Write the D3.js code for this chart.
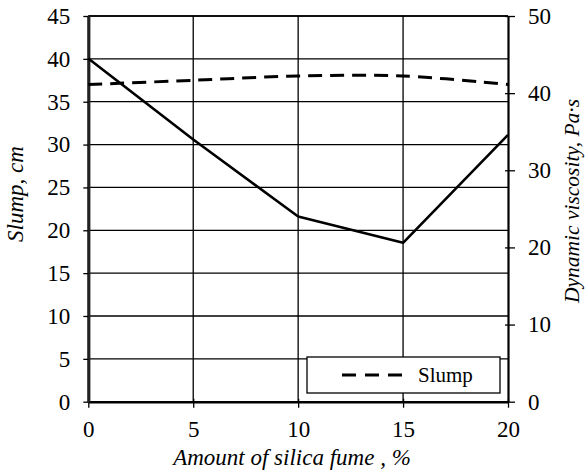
<!DOCTYPE html>
<html>
<head>
<meta charset="utf-8">
<script src="https://cdn.jsdelivr.net/npm/d3@7"></script>
<style>
  body { margin: 0; background: #fff; }
  svg { display: block; }
</style>
</head>
<body>
<svg width="585" height="470"></svg>
<script>
// Data.
const silica = [0, 5, 10, 15, 20];
const slump = [37, 37.5, 38, 38, 37];            // left axis, cm (dashed)
const viscosity = [44.5, 34, 24, 20.6, 34.6];     // right axis, Pa·s (solid)
const xTicks = [0, 5, 10, 15, 20];
const leftTicks = [0, 5, 10, 15, 20, 25, 30, 35, 40, 45];
const rightTicks = [0, 10, 20, 30, 40, 50];

const serif = "Liberation Serif";

const svg = d3.select("svg");
const margin = { left: 88.3, right: 77, top: 16, bottom: 68.3 };
const width = 585 - margin.left - margin.right;
const height = 470 - margin.top - margin.bottom;

const g = svg.append("g").attr("transform", `translate(${margin.left},${margin.top})`);

const x = d3.scaleLinear().domain([0, 20]).range([0, width]);
const yL = d3.scaleLinear().domain([0, 45]).range([height, 0]);
const yR = d3.scaleLinear().domain([0, 50]).range([height, 0]);

// Grid lines.
g.append("g").selectAll("line.h")
    .data(leftTicks.filter(d => d > 0))
    .enter().append("line")
    .attr("x1", 0).attr("x2", width)
    .attr("y1", d => yL(d)).attr("y2", d => yL(d))
    .attr("stroke", "#000").attr("stroke-width", 1.3);

g.append("g").selectAll("line.v")
    .data(xTicks.filter(d => d > 0 && d < 20))
    .enter().append("line")
    .attr("x1", d => x(d)).attr("x2", d => x(d))
    .attr("y1", 0).attr("y2", height)
    .attr("stroke", "#000").attr("stroke-width", 1.3);

// Top border.
g.append("line").attr("x1", 0).attr("x2", width).attr("y1", 0).attr("y2", 0)
    .attr("stroke", "#000").attr("stroke-width", 1.5);

// Axes.
const xAxis = g.append("g").attr("transform", `translate(0,${height})`)
    .call(d3.axisBottom(x).tickValues(xTicks).tickSize(6).tickPadding(13).tickSizeOuter(0));
xAxis.selectAll(".tick line").attr("y1", -3).attr("stroke-width", 1.3);
const yLeft = g.append("g")
    .call(d3.axisLeft(yL).tickValues(leftTicks).tickSize(5).tickPadding(13).tickSizeOuter(0));
yLeft.selectAll(".tick line").attr("stroke-width", 1.3);
const yRight = g.append("g").attr("transform", `translate(${width},0)`)
    .call(d3.axisRight(yR).tickValues(rightTicks).tickSize(7).tickPadding(13).tickSizeOuter(0));
yRight.selectAll(".tick line").attr("x1", -3).attr("stroke-width", 1.3);

[xAxis, yLeft, yRight].forEach(a => {
    a.selectAll("text")
        .style("font-family", serif)
        .style("font-size", "23px")
        .attr("fill", "#000");
    a.select(".domain").attr("stroke", "#000");
});
xAxis.select(".domain").attr("stroke-width", 2.5);
yLeft.select(".domain").attr("stroke-width", 3.2).attr("stroke", "#222");
yRight.select(".domain").attr("stroke-width", 2.2);

// Series lines.
const viscLine = d3.line()
    .x((d, i) => x(silica[i]))
    .y(d => yR(d));
g.append("path").datum(viscosity)
    .attr("d", viscLine)
    .attr("fill", "none").attr("stroke", "#000").attr("stroke-width", 2.6)
    .attr("stroke-linejoin", "round");

const slumpLine = d3.line()
    .x((d, i) => x(silica[i]))
    .y(d => yL(d))
    .curve(d3.curveCatmullRom.alpha(0.5));
g.append("path").datum(slump)
    .attr("d", slumpLine)
    .attr("fill", "none").attr("stroke", "#000").attr("stroke-width", 3)
    .attr("stroke-dasharray", "14,8");

// Legend.
const legend = svg.append("g").attr("transform", "translate(307,357)");
legend.append("rect").attr("width", 193).attr("height", 36)
    .attr("fill", "#fff").attr("stroke", "#000").attr("stroke-width", 1.3);
legend.append("line").attr("x1", 35).attr("x2", 95).attr("y1", 18).attr("y2", 18)
    .attr("stroke", "#000").attr("stroke-width", 3).attr("stroke-dasharray", "14,9");
legend.append("text").attr("x", 111).attr("y", 25)
    .style("font-family", serif).style("font-size", "21px").text("Slump");

// Axis titles.
svg.append("text")
    .attr("transform", "translate(23,194) rotate(-90)")
    .attr("text-anchor", "middle")
    .style("font-family", serif).style("font-size", "23px").style("font-style", "italic")
    .text("Slump, cm");
svg.append("text")
    .attr("transform", "translate(579,201) rotate(-90)")
    .attr("text-anchor", "middle")
    .style("font-family", serif).style("font-size", "21.5px").style("font-style", "italic")
    .text("Dynamic viscosity, Pa·s");
svg.append("text")
    .attr("x", 292).attr("y", 465)
    .attr("text-anchor", "middle")
    .style("font-family", serif).style("font-size", "23px").style("font-style", "italic")
    .text("Amount of silica fume , %");
</script>
</body>
</html>
